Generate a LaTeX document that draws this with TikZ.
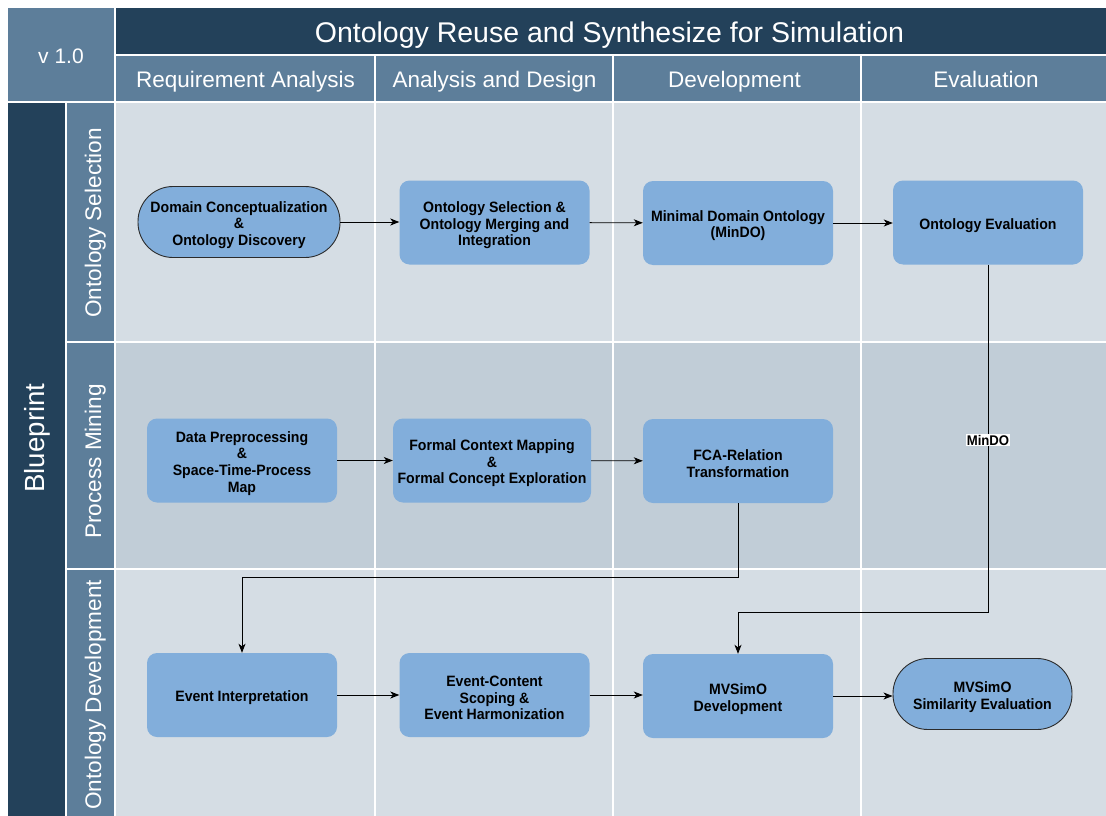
\documentclass[tikz,border=0pt]{standalone}
\usepackage{fontspec}
\setmainfont{Liberation Sans}
\newfontfamily\narrowsans[FakeStretch=0.94]{Liberation Sans}
\usetikzlibrary{arrows.meta}

% extra room above the first text line of a box
\newcommand\boxlead{\rule{0pt}{16.5pt}}

\definecolor{bandDark}{HTML}{23415A}
\definecolor{bandMid}{HTML}{5D7E9A}
\definecolor{laneLight}{HTML}{D5DDE4}
\definecolor{laneDark}{HTML}{C1CDD7}
\definecolor{taskFill}{HTML}{82AEDB}
\definecolor{termLine}{HTML}{2B2B2B}

\tikzset{
  boxtext/.style={align=center, font=\narrowsans\fontsize{15}{16.6}\selectfont\bfseries},
  task/.style={boxtext, rounded corners=10pt, fill=taskFill, minimum width=190pt,
    minimum height=84pt, inner sep=2pt},
  terminal/.style={boxtext, rounded corners=35pt, fill=taskFill, draw=termLine,
    line width=0.9pt, minimum height=71pt, inner sep=2pt},
  flow/.style={draw=black, line width=0.9pt, -{Stealth[length=9pt,width=7pt,inset=2.5pt]}},
  lanetitle/.style={rotate=90, anchor=base, text=white, font=\fontsize{22.6}{26}\selectfont},
  coltitle/.style={anchor=base, text=white, font=\fontsize{22.5}{26}\selectfont}
}

\begin{document}
\begin{tikzpicture}[x=1pt,y=-1pt]
  % page area
  \useasboundingbox (0,0) rectangle (1106,816);
  \fill[white] (0,0) rectangle (1106,816);

  % header bands
  \fill[bandMid]  (8,8) rectangle (114,101);
  \fill[bandDark] (116,8) rectangle (1106,54);
  \fill[bandMid]  (116,56) rectangle (374,101);
  \fill[bandMid]  (376,56) rectangle (612,101);
  \fill[bandMid]  (614,56) rectangle (860,101);
  \fill[bandMid]  (862,56) rectangle (1106,101);

  % pool and lane title bands
  \fill[bandDark] (8,103) rectangle (65,816);
  \fill[bandMid]  (67,103) rectangle (114,341);
  \fill[bandMid]  (67,343) rectangle (114,568);
  \fill[bandMid]  (67,570) rectangle (114,816);

  % lane cells
  \foreach \xa/\xb in {116/374, 376/612, 614/860, 862/1106} {
    \fill[laneLight] (\xa,103) rectangle (\xb,341);
    \fill[laneDark]  (\xa,343) rectangle (\xb,568);
    \fill[laneLight] (\xa,570) rectangle (\xb,816);
  }

  % header texts
  \node[anchor=base, text=white, font=\fontsize{21}{24}\selectfont] (ver) at (61,63.5) {v 1.0};
  \node[anchor=base, text=white, font=\fontsize{28.5}{32}\selectfont] (title) at (609.5,43) {Ontology Reuse and Synthesize for Simulation};
  \node[coltitle] (c1) at (245.5,87.5) {Requirement Analysis};
  \node[coltitle] (c2) at (494.5,87.5) {Analysis and Design};
  \node[coltitle] (c3) at (734.5,87.5) {Development};
  \node[coltitle] (c4) at (986,87.5) {Evaluation};

  \node[rotate=90, anchor=base, text=white, font=\fontsize{27.7}{31}\selectfont] (pool) at (44,438) {Blueprint};
  \node[lanetitle] (l1) at (101,223) {Ontology Selection};
  \node[lanetitle] (l2) at (101,461.5) {Process Mining};
  \node[lanetitle] (l3) at (101,695) {Ontology Development};

  % lane 1: ontology selection
  \node[terminal, minimum width=202pt] (dom) at (239,222) {\boxlead Domain Conceptualization\\\&\\Ontology Discovery};
  \node[task] (sel) at (494.5,222.5) {\boxlead Ontology Selection \&\\Ontology Merging and\\Integration};
  \node[task] (min) at (738,223) {\boxlead Minimal Domain Ontology\\(MinDO)};
  \node[task] (eva) at (988,222.5) {\boxlead Ontology Evaluation};

  % lane 2: process mining
  \node[task] (pre) at (242,460.5) {\boxlead Data Preprocessing\\\&\\Space-Time-Process\\Map};
  \node[task, minimum width=198pt] (fcm) at (492,460.5) {\boxlead Formal Context Mapping\\\&\\Formal Concept Exploration};
  \node[task] (fca) at (738,461) {\boxlead FCA-Relation\\Transformation};

  % lane 3: ontology development
  \node[task] (evi) at (242,695) {\boxlead Event Interpretation};
  \node[task] (ecs) at (494.5,695) {\boxlead Event-Content\\Scoping \&\\Event Harmonization};
  \node[task] (mvd) at (738,696) {\boxlead MVSimO\\Development};
  \node[terminal, minimum width=179pt] (mvs) at (982.5,694) {\boxlead MVSimO\\Similarity Evaluation};

  % flows
  \draw[flow] (dom.east) -- (sel.west |- dom.east);
  \draw[flow] (sel) -- (min);
  \draw[flow] (min) -- (eva.west |- min.east);
  \draw[flow] (pre) -- (fcm);
  \draw[flow] (fcm) -- (fca);
  \draw[flow] (fca.south) |- ++(0,74) -| (evi.north);
  \draw[flow] (evi) -- (ecs);
  \draw[flow] (ecs.east) -- (mvd.west |- ecs.east);
  \draw[flow] (mvd.east) -- (mvs.west |- mvd.east);
  \draw[flow] (eva.south)
    -- node[pos=0.504, fill=white, inner sep=1pt,
            font=\narrowsans\fontsize{14}{16}\selectfont\bfseries] (lbl) {MinDO}
    ++(0,348) coordinate (bend) -| (mvd.north);
\end{tikzpicture}
\end{document}
